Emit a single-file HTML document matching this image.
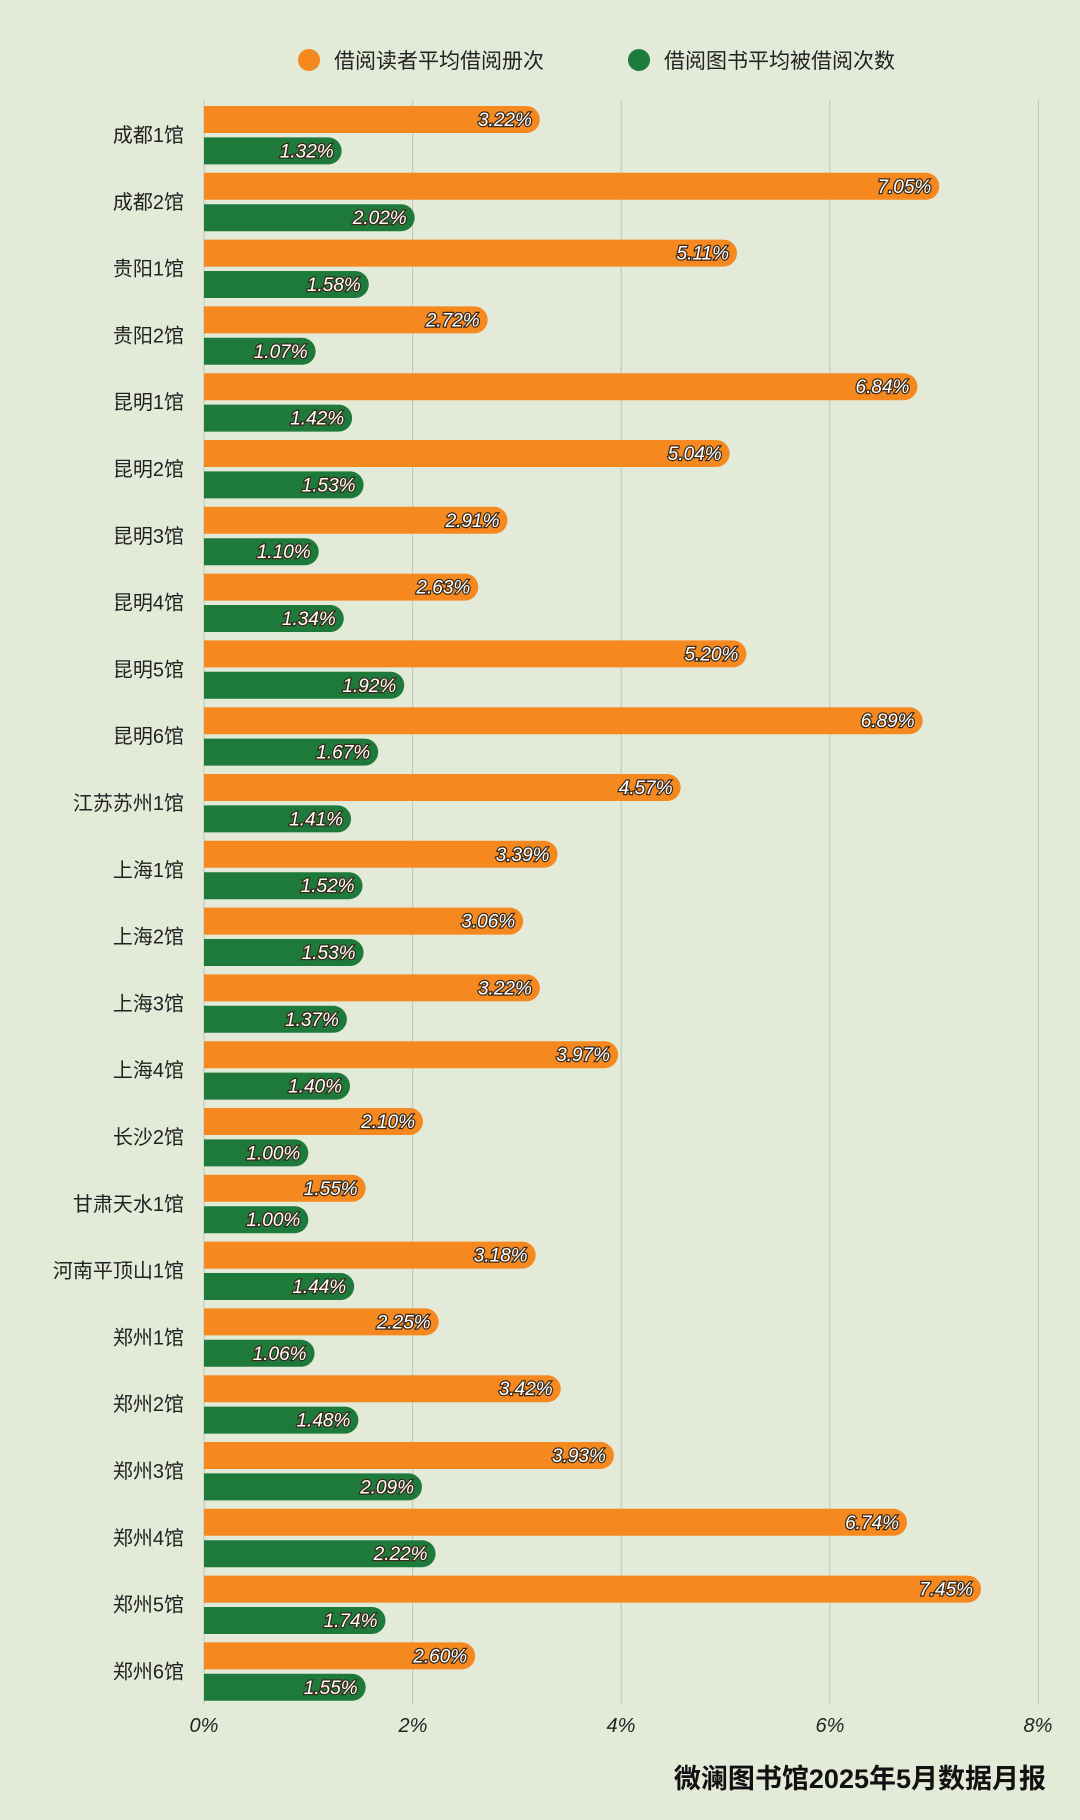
<!DOCTYPE html>
<html><head><meta charset="utf-8">
<style>
html,body{margin:0;padding:0;background:#e3ead8;}
svg{display:block}
text{font-family:"Liberation Sans","Noto Sans CJK SC",sans-serif;}
</style></head>
<body>
<svg id="c" width="1080" height="1820" xmlns="http://www.w3.org/2000/svg">
<rect width="1080" height="1820" fill="#e3ead8"/>
<g id="grid"></g>
<circle cx="309" cy="60" r="11" fill="#f5891f"/>
<text x="334" y="68" font-size="21" fill="#222">借阅读者平均借阅册次</text>
<circle cx="639" cy="60" r="11" fill="#1e7a3a"/>
<text x="664" y="68" font-size="21" fill="#222">借阅图书平均被借阅次数</text>
<g id="bars"></g>
<text x="204" y="1732" font-size="20" text-anchor="middle" fill="#222" font-style="italic">0%</text>
<text x="413" y="1732" font-size="20" text-anchor="middle" fill="#222" font-style="italic">2%</text>
<text x="621" y="1732" font-size="20" text-anchor="middle" fill="#222" font-style="italic">4%</text>
<text x="830" y="1732" font-size="20" text-anchor="middle" fill="#222" font-style="italic">6%</text>
<text x="1038" y="1732" font-size="20" text-anchor="middle" fill="#222" font-style="italic">8%</text>
<text x="1046" y="1788" font-size="27" font-weight="bold" text-anchor="end" fill="#111">微澜图书馆2025年5月数据月报</text>
</svg>
<script>
var d=[["成都1馆",3.22,1.32],["成都2馆",7.05,2.02],["贵阳1馆",5.11,1.58],["贵阳2馆",2.72,1.07],["昆明1馆",6.84,1.42],["昆明2馆",5.04,1.53],["昆明3馆",2.91,1.10],["昆明4馆",2.63,1.34],["昆明5馆",5.20,1.92],["昆明6馆",6.89,1.67],["江苏苏州1馆",4.57,1.41],["上海1馆",3.39,1.52],["上海2馆",3.06,1.53],["上海3馆",3.22,1.37],["上海4馆",3.97,1.40],["长沙2馆",2.10,1.00],["甘肃天水1馆",1.55,1.00],["河南平顶山1馆",3.18,1.44],["郑州1馆",2.25,1.06],["郑州2馆",3.42,1.48],["郑州3馆",3.93,2.09],["郑州4馆",6.74,2.22],["郑州5馆",7.45,1.74],["郑州6馆",2.60,1.55]];
var x0=204,k=104.3,h=27,r=13.5,s="",g="";
for(var j=1;j<=4;j++){var gx=x0+j*2*k;g+='<line x1="'+gx+'" y1="100" x2="'+gx+'" y2="1705" stroke="#bfc6b6" stroke-width="1"/>';}
g+='<line x1="'+x0+'" y1="100" x2="'+x0+'" y2="1705" stroke="#bfc6b6" stroke-width="1"/>';
function bar(y,v,c){var x1=x0+v*k;return '<path d="M'+x0+' '+y+'H'+(x1-r)+'A'+r+' '+r+' 0 0 1 '+(x1-r)+' '+(y+h)+'H'+x0+'Z" fill="'+c+'"/>'+
'<text x="'+(x1-8)+'" y="'+(y+20)+'" font-size="19" font-style="italic" text-anchor="end" fill="#fff" stroke="#3a2a1a" stroke-width="2.5" paint-order="stroke">'+v.toFixed(2)+'%</text>';}
for(var i=0;i<d.length;i++){var oy=106+66.8*i;
s+=bar(oy,d[i][1],"#f5891f");s+=bar(oy+31.4,d[i][2],"#1e7a3a");
s+='<text x="184" y="'+(oy+36)+'" font-size="20" text-anchor="end" fill="#222">'+d[i][0]+'</text>';}
document.getElementById("grid").innerHTML=g;
document.getElementById("bars").innerHTML=s;
</script>
</body></html>
